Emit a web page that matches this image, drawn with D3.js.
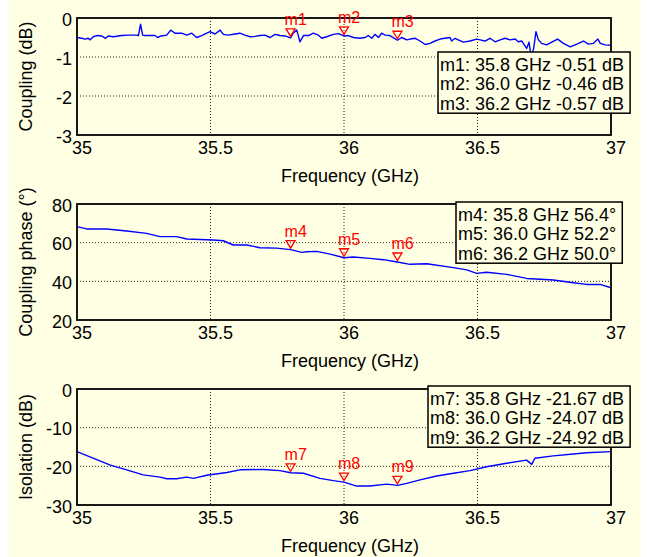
<!DOCTYPE html>
<html>
<head>
<meta charset="utf-8">
<script src="https://cdn.jsdelivr.net/npm/d3@7"></script>
<style>
  html, body { margin: 0; padding: 0; background: #ffffff; }
  svg { display: block; }
  text { font-family: "Liberation Sans", Arial, sans-serif; }
</style>
</head>
<body>
<svg id="chart" width="647" height="557"></svg>
<script>
// Frequency axis shared by all three panels (GHz)
const freqTicks = [35, 35.5, 36, 36.5, 37];
const freqTickLabels = ["35", "35.5", "36", "36.5", "37"];

// Coupling magnitude (dB)
const couplingFreq = [35.000, 35.018, 35.030, 35.042, 35.049, 35.061, 35.074, 35.092, 35.107, 35.117,
  35.136, 35.155, 35.167, 35.192, 35.224, 35.230, 35.238, 35.246, 35.255, 35.292,
  35.302, 35.315, 35.336, 35.351, 35.367, 35.392, 35.411, 35.430, 35.448, 35.467,
  35.486, 35.498, 35.517, 35.536, 35.548, 35.567, 35.592, 35.610, 35.629, 35.648,
  35.667, 35.685, 35.704, 35.723, 35.742, 35.760, 35.779, 35.800, 35.810, 35.823,
  35.835, 35.848, 35.867, 35.885, 35.904, 35.917, 35.935, 35.960, 35.979, 36.000,
  36.016, 36.035, 36.060, 36.079, 36.091, 36.104, 36.116, 36.129, 36.141, 36.154,
  36.172, 36.200, 36.216, 36.235, 36.248, 36.267, 36.285, 36.304, 36.322, 36.341,
  36.360, 36.378, 36.397, 36.403, 36.416, 36.428, 36.447, 36.472, 36.497, 36.510,
  36.528, 36.547, 36.566, 36.585, 36.603, 36.622, 36.641, 36.653, 36.666, 36.684,
  36.693, 36.700, 36.710, 36.719, 36.728, 36.740, 36.759, 36.778, 36.800, 36.822,
  36.847, 36.872, 36.897, 36.915, 36.934, 36.951, 36.960, 36.978, 37.000];
const couplingDb = [-0.50, -0.52, -0.54, -0.52, -0.56, -0.48, -0.45, -0.46, -0.52, -0.46,
  -0.48, -0.46, -0.45, -0.44, -0.44, -0.45, -0.16, -0.44, -0.45, -0.45,
  -0.50, -0.46, -0.44, -0.31, -0.39, -0.39, -0.44, -0.39, -0.50, -0.45,
  -0.39, -0.35, -0.41, -0.31, -0.42, -0.44, -0.41, -0.39, -0.44, -0.48,
  -0.47, -0.45, -0.44, -0.50, -0.42, -0.45, -0.46, -0.51, -0.39, -0.31,
  -0.61, -0.45, -0.45, -0.39, -0.44, -0.52, -0.48, -0.42, -0.40, -0.46,
  -0.45, -0.50, -0.52, -0.50, -0.45, -0.52, -0.42, -0.50, -0.39, -0.44,
  -0.45, -0.57, -0.50, -0.56, -0.54, -0.52, -0.59, -0.68, -0.65, -0.59,
  -0.54, -0.52, -0.50, -0.59, -0.52, -0.56, -0.62, -0.59, -0.54, -0.56,
  -0.59, -0.52, -0.61, -0.56, -0.52, -0.56, -0.54, -0.61, -0.59, -0.78,
  -0.62, -0.95, -0.80, -0.35, -0.56, -0.65, -0.69, -0.62, -0.54, -0.65,
  -0.74, -0.67, -0.59, -0.67, -0.65, -0.54, -0.65, -0.69, -0.70];

// Coupling phase (degrees)
const phaseFreq = [35.000, 35.036, 35.111, 35.186, 35.261, 35.311, 35.373, 35.411, 35.510, 35.548,
  35.585, 35.636, 35.685, 35.748, 35.800, 35.842, 35.860, 35.898, 35.948, 36.000,
  36.035, 36.097, 36.147, 36.200, 36.247, 36.310, 36.410, 36.460, 36.497, 36.534,
  36.609, 36.684, 36.784, 36.859, 36.909, 36.959, 37.000];
const phaseDeg = [68.3, 67.1, 67.1, 66.0, 64.8, 63.1, 63.1, 61.9, 61.4, 61.0,
  58.8, 58.8, 57.4, 57.2, 56.4, 55.0, 55.3, 55.5, 54.1, 52.2,
  52.6, 51.9, 51.2, 50.0, 48.8, 49.1, 47.1, 45.9, 44.1, 44.7,
  43.6, 41.5, 40.7, 39.3, 38.4, 38.4, 36.7];

// Isolation (dB)
const isolationFreq = [35.000, 35.060, 35.125, 35.186, 35.248, 35.311, 35.336, 35.373, 35.411, 35.436,
  35.486, 35.561, 35.610, 35.698, 35.760, 35.800, 35.848, 35.910, 35.960, 36.000,
  36.047, 36.097, 36.160, 36.200, 36.235, 36.285, 36.347, 36.410, 36.472, 36.534,
  36.609, 36.684, 36.703, 36.715, 36.784, 36.859, 36.909, 37.000];
const isolationDb = [-16.2, -17.9, -19.7, -20.9, -22.2, -22.8, -23.2, -23.2, -22.8, -23.1,
  -22.3, -21.6, -20.9, -20.8, -21.1, -21.67, -21.8, -23.1, -23.7, -24.07,
  -25.1, -25.1, -24.6, -24.92, -24.4, -23.5, -22.5, -21.8, -21.1, -20.1,
  -19.2, -18.4, -19.5, -17.9, -17.3, -16.8, -16.5, -16.2];

// Marker readouts
const markerFreq = [35.8, 36.0, 36.2];
const couplingMarkers = [-0.51, -0.46, -0.57];
const phaseMarkers = [56.4, 52.2, 50.0];
const isolationMarkers = [-21.67, -24.07, -24.92];

// Y axis ticks per panel
const couplingTicks = [0, -1, -2, -3];
const phaseTicks = [80, 60, 40, 20];
const isolationTicks = [0, -10, -20, -30];

const svg = d3.select("#chart");
const W = 647, H = 557;
const bg = "#ffffe3";

svg.append("rect").attr("x", 9).attr("y", 0).attr("width", 632).attr("height", H).attr("fill", bg);

const x = d3.scaleLinear().domain([35, 37]).range([77, 611]);

const panels = [
  { top: 18, bottom: 135, domain: [-3, 0], ticks: couplingTicks, ylabel: "Coupling (dB)",
    fx: couplingFreq, fy: couplingDb, markers: couplingMarkers, firstMarker: 1,
    fmt: v => v.toFixed(2) + " dB", legend: { left: 438, top: 52 } },
  { top: 204, bottom: 320, domain: [20, 80], ticks: phaseTicks, ylabel: "Coupling phase (\u00b0)",
    fx: phaseFreq, fy: phaseDeg, markers: phaseMarkers, firstMarker: 4,
    fmt: v => v.toFixed(1) + "\u00b0", legend: { left: 456, top: 202 } },
  { top: 389, bottom: 505, domain: [-30, 0], ticks: isolationTicks, ylabel: "Isolation (dB)",
    fx: isolationFreq, fy: isolationDb, markers: isolationMarkers, firstMarker: 7,
    fmt: v => v.toFixed(2) + " dB", legend: { left: 428, top: 386 } }
];

panels.forEach(p => {
  const y = d3.scaleLinear().domain(p.domain).range([p.bottom, p.top]);
  const g = svg.append("g");

  // dotted grid
  const grid = g.append("g").attr("stroke", "#222").attr("stroke-width", 1).attr("stroke-dasharray", "1,2");
  freqTicks.slice(1, -1).forEach(t => {
    grid.append("line").attr("x1", x(t)).attr("x2", x(t)).attr("y1", p.top).attr("y2", p.bottom);
  });
  p.ticks.filter(t => t !== p.domain[0] && t !== p.domain[1]).forEach(t => {
    grid.append("line").attr("x1", x.range()[0]).attr("x2", x.range()[1]).attr("y1", y(t)).attr("y2", y(t));
  });

  // trace
  const pts = p.fx.map((f, i) => [f, p.fy[i]]);
  const line = d3.line().x(d => x(d[0])).y(d => y(d[1]));
  g.append("path").datum(pts).attr("d", line).attr("fill", "none")
    .attr("stroke", "#0000ff").attr("stroke-width", 1.4).attr("stroke-linejoin", "round");

  // axes frame
  g.append("rect").attr("x", x.range()[0]).attr("y", p.top)
    .attr("width", x.range()[1] - x.range()[0]).attr("height", p.bottom - p.top)
    .attr("fill", "none").attr("stroke", "#000").attr("stroke-width", 1.8);

  // x tick labels
  freqTicks.forEach((t, i) => {
    g.append("text").attr("x", x(t) + 5).attr("y", p.bottom + 19)
      .attr("text-anchor", "middle").attr("font-size", 18).attr("fill", "#000")
      .text(freqTickLabels[i]);
  });
  // y tick labels
  p.ticks.forEach(t => {
    g.append("text").attr("x", 72).attr("y", y(t) + 7.5)
      .attr("text-anchor", "end").attr("font-size", 18).attr("fill", "#000")
      .text(String(t));
  });

  // axis titles
  g.append("text").attr("x", 350).attr("y", p.bottom + 47)
    .attr("text-anchor", "middle").attr("font-size", 18).attr("fill", "#000")
    .text("Frequency (GHz)");
  g.append("text")
    .attr("transform", `translate(32,${(p.top + p.bottom) / 2}) rotate(-90)`)
    .attr("text-anchor", "middle").attr("font-size", 18).attr("fill", "#000")
    .text(p.ylabel);

  // markers
  markerFreq.forEach((f, i) => {
    const mx = x(f), my = y(p.markers[i]);
    g.append("path")
      .attr("d", `M${mx - 4.5},${my - 9}L${mx + 4.5},${my - 9}L${mx},${my - 1.5}Z`)
      .attr("fill", "none").attr("stroke", "#ff0000").attr("stroke-width", 1.3);
    g.append("text").attr("x", mx - 6).attr("y", my - 13)
      .attr("font-size", 16).attr("fill", "#ff0000")
      .text("m" + (p.firstMarker + i));
  });

  // marker readout box
  const lg = g.append("g");
  const box = lg.append("rect");
  const lines = markerFreq.map((f, i) =>
    `m${p.firstMarker + i}: ${f.toFixed(1)} GHz ${p.fmt(p.markers[i])}`);
  const lineH = 19.4;
  const txt = lines.map((s, i) =>
    lg.append("text").attr("x", p.legend.left + 2).attr("y", p.legend.top + 19 + i * lineH)
      .attr("font-size", 18).attr("fill", "#000").text(s));
  const wMax = d3.max(txt, t => t.node().getComputedTextLength());
  box.attr("x", p.legend.left).attr("y", p.legend.top)
    .attr("width", wMax + 8).attr("height", lineH * 3 + 3)
    .attr("fill", bg).attr("stroke", "#000").attr("stroke-width", 1.5);
});
</script>
</body>
</html>
